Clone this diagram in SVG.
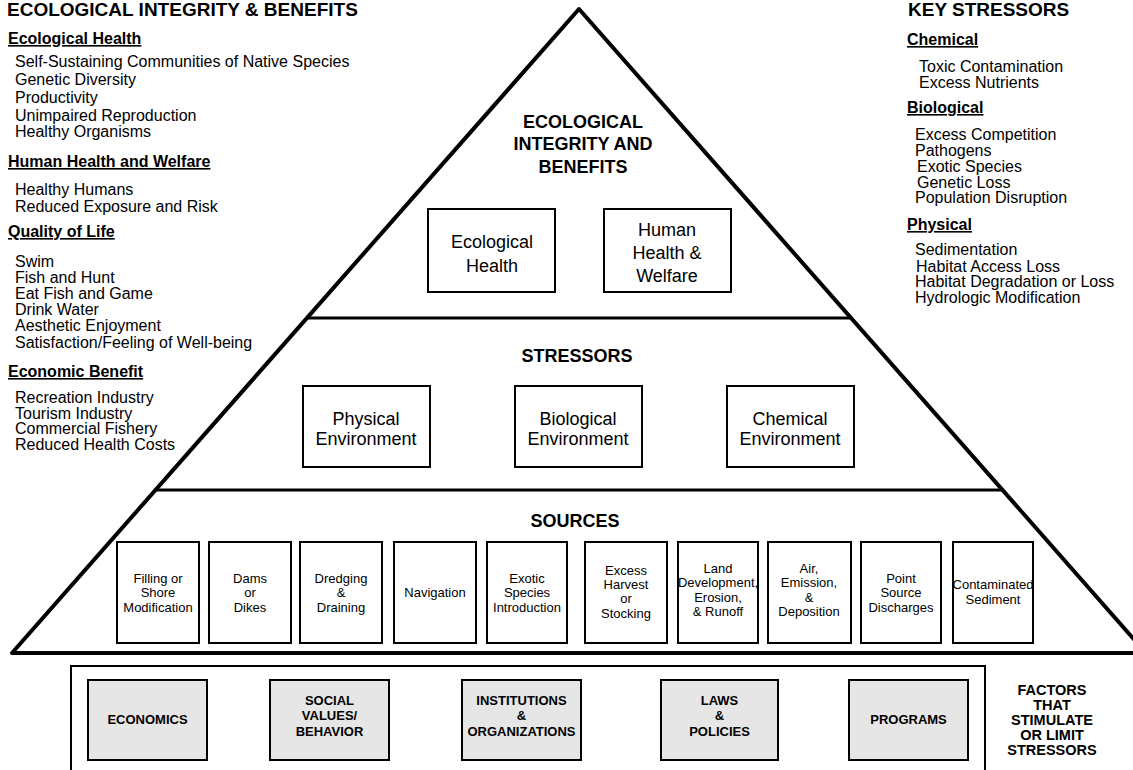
<svg xmlns="http://www.w3.org/2000/svg" width="1133" height="770" viewBox="0 0 1133 770">
<style>
text{font-family:"Liberation Sans",Arial,sans-serif;fill:#000}
.hd{font-size:19px;font-weight:bold}
.sub{font-size:16px;font-weight:bold;text-decoration:underline}
.it{font-size:16px}
.tt{font-size:18px;font-weight:bold;text-anchor:middle}
.bx{font-size:18px;text-anchor:middle}
.sr{font-size:13px;text-anchor:middle}
.gb{font-size:13px;font-weight:bold;text-anchor:middle}
.fc{font-size:14.5px;font-weight:bold;text-anchor:middle}
.box{fill:#fff;stroke:#000;stroke-width:2}
.gbox{fill:#e6e6e6;stroke:#000;stroke-width:2}
.frame{fill:none;stroke:#000}
</style>
<rect width="1133" height="770" fill="#fff"/>

<g id="left-list">
<text class="hd" x="7" y="16">ECOLOGICAL INTEGRITY &amp; BENEFITS</text>
<text class="sub" x="8" y="44">Ecological Health</text>
<text class="it" x="15" y="67">Self-Sustaining Communities of Native Species</text>
<text class="it" x="15" y="85">Genetic Diversity</text>
<text class="it" x="15" y="103">Productivity</text>
<text class="it" x="15" y="121">Unimpaired Reproduction</text>
<text class="it" x="15" y="137">Healthy Organisms</text>
<text class="sub" x="8" y="167">Human Health and Welfare</text>
<text class="it" x="15" y="195">Healthy Humans</text>
<text class="it" x="15" y="212">Reduced Exposure and Risk</text>
<text class="sub" x="8" y="237">Quality of Life</text>
<text class="it" x="15" y="267">Swim</text>
<text class="it" x="15" y="283">Fish and Hunt</text>
<text class="it" x="15" y="299">Eat Fish and Game</text>
<text class="it" x="15" y="315">Drink Water</text>
<text class="it" x="15" y="331">Aesthetic Enjoyment</text>
<text class="it" x="15" y="348">Satisfaction/Feeling of Well-being</text>
<text class="sub" x="8" y="377">Economic Benefit</text>
<text class="it" x="15" y="403">Recreation Industry</text>
<text class="it" x="15" y="419">Tourism Industry</text>
<text class="it" x="15" y="434">Commercial Fishery</text>
<text class="it" x="15" y="450">Reduced Health Costs</text>
</g>

<g id="right-list">
<text class="hd" x="908" y="16">KEY STRESSORS</text>
<text class="sub" x="907" y="45">Chemical</text>
<text class="it" x="919" y="72">Toxic Contamination</text>
<text class="it" x="919" y="88">Excess Nutrients</text>
<text class="sub" x="907" y="113">Biological</text>
<text class="it" x="915" y="140">Excess Competition</text>
<text class="it" x="915" y="156">Pathogens</text>
<text class="it" x="917" y="172">Exotic Species</text>
<text class="it" x="917" y="188">Genetic Loss</text>
<text class="it" x="915" y="203">Population Disruption</text>
<text class="sub" x="907" y="230">Physical</text>
<text class="it" x="915" y="255">Sedimentation</text>
<text class="it" x="916" y="272">Habitat Access Loss</text>
<text class="it" x="915" y="287">Habitat Degradation or Loss</text>
<text class="it" x="915" y="303">Hydrologic Modification</text>
</g>

<g id="pyramid">
<polygon points="12,653 579,9 1146,653" fill="none" stroke="#000" stroke-width="4" stroke-linejoin="round"/>
<line x1="307" y1="318" x2="851" y2="318" stroke="#000" stroke-width="3"/>
<line x1="156" y1="490" x2="1002" y2="490" stroke="#000" stroke-width="3"/>
<text class="tt" x="583" y="128">ECOLOGICAL</text>
<text class="tt" x="583" y="150">INTEGRITY AND</text>
<text class="tt" x="583" y="173">BENEFITS</text>
<text class="tt" x="577" y="362">STRESSORS</text>
<text class="tt" x="575" y="527">SOURCES</text>
</g>

<g id="ecological-health">
<rect class="box" x="428" y="209" width="127" height="83"/>
<text class="bx" x="492" y="248">Ecological</text>
<text class="bx" x="492" y="272">Health</text>
</g>
<g id="human-health">
<rect class="box" x="604" y="209" width="127" height="83"/>
<text class="bx" x="667" y="236">Human</text>
<text class="bx" x="667" y="259">Health &amp;</text>
<text class="bx" x="667" y="282">Welfare</text>
</g>

<g id="physical-env">
<rect class="box" x="303" y="386" width="127" height="81"/>
<text class="bx" x="366" y="425">Physical</text>
<text class="bx" x="366" y="445">Environment</text>
</g>
<g id="biological-env">
<rect class="box" x="515" y="386" width="127" height="81"/>
<text class="bx" x="578" y="425">Biological</text>
<text class="bx" x="578" y="445">Environment</text>
</g>
<g id="chemical-env">
<rect class="box" x="727" y="386" width="127" height="81"/>
<text class="bx" x="790" y="425">Chemical</text>
<text class="bx" x="790" y="445">Environment</text>
</g>

<g id="src-filling">
<rect class="box" x="117" y="542" width="82" height="101"/>
<text class="sr" x="158" y="583">Filling or</text>
<text class="sr" x="158" y="597">Shore</text>
<text class="sr" x="158" y="612">Modification</text>
</g>
<g id="src-dams">
<rect class="box" x="209" y="542" width="82" height="101"/>
<text class="sr" x="250" y="583">Dams</text>
<text class="sr" x="250" y="597">or</text>
<text class="sr" x="250" y="612">Dikes</text>
</g>
<g id="src-dredging">
<rect class="box" x="300" y="542" width="82" height="101"/>
<text class="sr" x="341" y="583">Dredging</text>
<text class="sr" x="341" y="597">&amp;</text>
<text class="sr" x="341" y="612">Draining</text>
</g>
<g id="src-navigation">
<rect class="box" x="394" y="542" width="82" height="101"/>
<text class="sr" x="435" y="597">Navigation</text>
</g>
<g id="src-exotic">
<rect class="box" x="487" y="542" width="80" height="101"/>
<text class="sr" x="527" y="583">Exotic</text>
<text class="sr" x="527" y="597">Species</text>
<text class="sr" x="527" y="612">Introduction</text>
</g>
<g id="src-harvest">
<rect class="box" x="585" y="542" width="82" height="101"/>
<text class="sr" x="626" y="575">Excess</text>
<text class="sr" x="626" y="589">Harvest</text>
<text class="sr" x="626" y="603">or</text>
<text class="sr" x="626" y="618">Stocking</text>
</g>
<g id="src-land">
<rect class="box" x="678" y="542" width="80" height="101"/>
<text class="sr" x="718" y="573">Land</text>
<text class="sr" x="718" y="587">Development,</text>
<text class="sr" x="718" y="602">Erosion,</text>
<text class="sr" x="718" y="616">&amp; Runoff</text>
</g>
<g id="src-air">
<rect class="box" x="768" y="542" width="83" height="101"/>
<text class="sr" x="809" y="573">Air,</text>
<text class="sr" x="809" y="587">Emission,</text>
<text class="sr" x="809" y="602">&amp;</text>
<text class="sr" x="809" y="616">Deposition</text>
</g>
<g id="src-point">
<rect class="box" x="861" y="542" width="80" height="101"/>
<text class="sr" x="901" y="583">Point</text>
<text class="sr" x="901" y="597">Source</text>
<text class="sr" x="901" y="612">Discharges</text>
</g>
<g id="src-contaminated">
<rect class="box" x="953" y="542" width="80" height="101"/>
<text class="sr" x="993" y="589">Contaminated</text>
<text class="sr" x="993" y="604">Sediment</text>
</g>

<g id="factors-frame">
<path class="frame" d="M71 771 L71 666 L985 666 L985 771" stroke-width="2"/>
<text class="fc" x="1052" y="695">FACTORS</text>
<text class="fc" x="1052" y="710">THAT</text>
<text class="fc" x="1052" y="725">STIMULATE</text>
<text class="fc" x="1052" y="740">OR LIMIT</text>
<text class="fc" x="1052" y="755">STRESSORS</text>
</g>
<g id="economics">
<rect class="gbox" x="88" y="680" width="119" height="80"/>
<text class="gb" x="147.5" y="724">ECONOMICS</text>
</g>
<g id="social-values">
<rect class="gbox" x="270" y="680" width="119" height="80"/>
<text class="gb" x="329.5" y="705">SOCIAL</text>
<text class="gb" x="329.5" y="720">VALUES/</text>
<text class="gb" x="329.5" y="736">BEHAVIOR</text>
</g>
<g id="institutions">
<rect class="gbox" x="462" y="680" width="119" height="80"/>
<text class="gb" x="521.5" y="705">INSTITUTIONS</text>
<text class="gb" x="521.5" y="720">&amp;</text>
<text class="gb" x="521.5" y="736">ORGANIZATIONS</text>
</g>
<g id="laws">
<rect class="gbox" x="661" y="680" width="117" height="80"/>
<text class="gb" x="719.5" y="705">LAWS</text>
<text class="gb" x="719.5" y="720">&amp;</text>
<text class="gb" x="719.5" y="736">POLICIES</text>
</g>
<g id="programs">
<rect class="gbox" x="849" y="680" width="119" height="80"/>
<text class="gb" x="908.5" y="724">PROGRAMS</text>
</g>
</svg>
